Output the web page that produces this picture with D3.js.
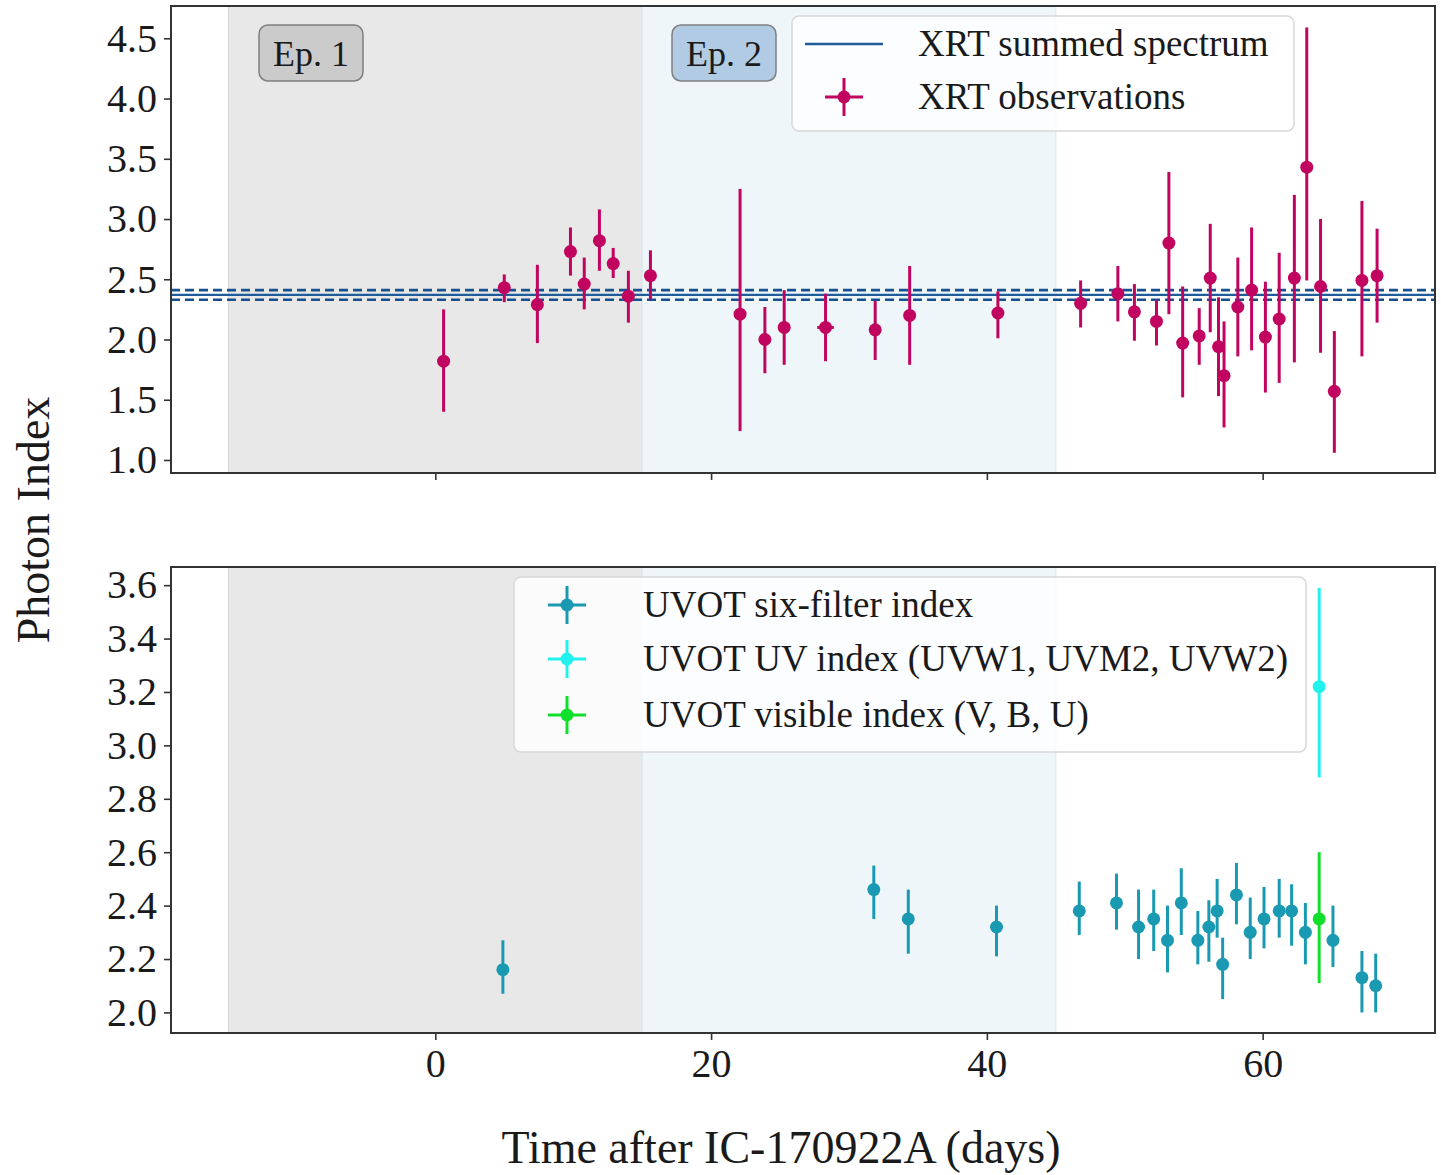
<!DOCTYPE html>
<html>
<head>
<meta charset="utf-8">
<script src="https://cdn.jsdelivr.net/npm/d3@7"></script>
<style>
  html, body { margin: 0; padding: 0; background: #ffffff; }
  svg text { font-family: "Liberation Serif", "DejaVu Serif", serif; fill: #1a1a1a; }
</style>
</head>
<body>
<svg id="chart" width="1441" height="1175"></svg>
<script>
// ---- XRT photon index per observation ----
const xrtTime    = [0.6, 5.0, 7.4, 9.8, 10.8, 11.9, 12.9, 14.0, 15.6, 22.1, 23.9, 25.3, 28.3, 31.9, 34.4, 40.8,
                    46.8, 49.5, 50.7, 52.3, 53.2, 54.2, 55.4, 56.2, 56.8, 57.2, 58.2, 59.2, 60.2, 61.2, 62.3, 63.2,
                    64.2, 65.2, 67.2, 68.3];
const xrtTimeErr = [0, 0, 0, 0, 0, 0, 0, 0, 0, 0, 0, 0, 0.6, 0, 0, 0,
                    0, 0, 0, 0, 0, 0, 0, 0, 0, 0, 0, 0, 0, 0, 0, 0,
                    0, 0, 0, 0];
const xrtIndex   = [1.82, 2.43, 2.29, 2.73, 2.46, 2.82, 2.63, 2.36, 2.53, 2.21, 2.00, 2.10, 2.10, 2.08, 2.20, 2.22,
                    2.30, 2.38, 2.23, 2.15, 2.80, 1.97, 2.03, 2.51, 1.94, 1.70, 2.27, 2.41, 2.02, 2.17, 2.51, 3.43,
                    2.44, 1.57, 2.49, 2.53];
const xrtUpper   = [2.25, 2.54, 2.62, 2.93, 2.68, 3.08, 2.76, 2.57, 2.74, 3.25, 2.27, 2.41, 2.38, 2.32, 2.61, 2.40,
                    2.49, 2.61, 2.46, 2.33, 3.39, 2.44, 2.26, 2.96, 2.35, 2.15, 2.68, 2.93, 2.48, 2.72, 3.20, 4.59,
                    3.00, 2.07, 3.15, 2.92];
const xrtLower   = [1.40, 2.31, 1.97, 2.53, 2.25, 2.57, 2.51, 2.14, 2.33, 1.24, 1.72, 1.79, 1.82, 1.83, 1.79, 2.01,
                    2.10, 2.15, 1.99, 1.95, 2.21, 1.52, 1.79, 2.06, 1.53, 1.27, 1.86, 1.91, 1.56, 1.64, 1.81, 2.49,
                    1.89, 1.06, 1.86, 2.14];

// ---- XRT summed spectrum: best fit and 1-sigma bounds ----
const summedIndex = 2.37;
const summedBounds = [2.41, 2.33];

// ---- UVOT six-filter index ----
const uvotTime  = [4.9, 31.8, 34.3, 40.7, 46.7, 49.4, 51.0, 52.1, 53.1, 54.1, 55.3, 56.1, 56.7, 57.1, 58.1, 59.1,
                   60.1, 61.2, 62.1, 63.1, 65.1, 67.2, 68.2];
const uvotIndex = [2.16, 2.46, 2.35, 2.32, 2.38, 2.41, 2.32, 2.35, 2.27, 2.41, 2.27, 2.32, 2.38, 2.18, 2.44, 2.30,
                   2.35, 2.38, 2.38, 2.30, 2.27, 2.13, 2.10];
const uvotUpper = [2.27, 2.55, 2.46, 2.40, 2.49, 2.52, 2.46, 2.46, 2.40, 2.54, 2.38, 2.42, 2.50, 2.28, 2.56, 2.43,
                   2.47, 2.50, 2.48, 2.41, 2.40, 2.23, 2.22];
const uvotLower = [2.07, 2.35, 2.22, 2.21, 2.29, 2.31, 2.20, 2.23, 2.15, 2.29, 2.18, 2.19, 2.28, 2.05, 2.33, 2.20,
                   2.24, 2.28, 2.25, 2.18, 2.17, 2.00, 2.00];

// ---- UVOT UV-only and visible-only indices ----
const uvTime = [64.1],  uvIndex = [3.22],  uvUpper = [3.59],  uvLower = [2.88];
const visTime = [64.1], visIndex = [2.35], visUpper = [2.60], visLower = [2.11];

// ---- epochs and ticks ----
const epochs = [
  { label: "Ep. 1", start: -15, end: 15 },
  { label: "Ep. 2", start: 15, end: 45 }
];
const xTicks = [0, 20, 40, 60];
const yTicksTop = [1.0, 1.5, 2.0, 2.5, 3.0, 3.5, 4.0, 4.5];
const yTicksBottom = [2.0, 2.2, 2.4, 2.6, 2.8, 3.0, 3.2, 3.4, 3.6];

// ---- series labels ----
const xrtLegend = ["XRT summed spectrum", "XRT observations"];
const uvotLegend = ["UVOT six-filter index", "UVOT UV index (UVW1, UVM2, UVW2)", "UVOT visible index (V, B, U)"];

// ---- layout ----
const C_XRT = "#c0045f", C_SUM = "#1f5c9a", C_SUMD = "#17508c";
const C_SIX = "#1a9ab2", C_UV = "#22f2ee", C_VIS = "#12df2c";
const left = 171, right = 1435;
const panelTop = { top: 6, bottom: 473 };
const panelBot = { top: 567, bottom: 1033 };

const svg = d3.select("#chart");

const x = d3.scaleLinear().domain([-19.17, 72.5]).range([left, right]);
const yTop = d3.scaleLinear().domain([0.892, 4.768]).range([panelTop.bottom, panelTop.top]);
const yBot = d3.scaleLinear().domain([1.923, 3.668]).range([panelBot.bottom, panelBot.top]);

function drawPanel(g, y, panel, yTicks, fmt, showXLabels) {
  const clipId = "clip" + panel.top;
  svg.append("clipPath").attr("id", clipId).append("rect")
    .attr("x", left).attr("y", panel.top).attr("width", right - left).attr("height", panel.bottom - panel.top);
  const plot = g.append("g").attr("clip-path", `url(#${clipId})`);

  // epoch shading
  const shade = ["#e8e8e8", "#eff6fa"];
  const edge = ["#d6dbe0", "#dde9f1"];
  epochs.forEach((ep, i) => {
    plot.append("rect")
      .attr("x", x(ep.start)).attr("y", panel.top)
      .attr("width", x(ep.end) - x(ep.start)).attr("height", panel.bottom - panel.top)
      .attr("fill", shade[i]).attr("stroke", edge[i]).attr("stroke-width", 1.2);
  });

  // axes
  const ya = g.append("g").attr("transform", `translate(${left},0)`)
    .call(d3.axisLeft(y).tickValues(yTicks).tickFormat(fmt).tickSize(7).tickPadding(7));
  ya.select(".domain").remove();
  ya.selectAll("line").attr("stroke", "#333").attr("stroke-width", 1.6);
  ya.selectAll("text").attr("font-size", 40).attr("fill", "#1a1a1a")
    .style("font-family", "'Liberation Serif', serif");

  const xa = g.append("g").attr("transform", `translate(0,${panel.bottom})`)
    .call(d3.axisBottom(x).tickValues(xTicks).tickFormat(showXLabels ? d3.format("d") : () => "")
      .tickSize(7).tickPadding(9));
  xa.select(".domain").remove();
  xa.selectAll("line").attr("stroke", "#333").attr("stroke-width", 1.6);
  xa.selectAll("text").attr("font-size", 40).attr("fill", "#1a1a1a")
    .style("font-family", "'Liberation Serif', serif");

  return plot;
}

function errorbars(plot, y, t, v, lo, hi, color, terr) {
  const d = t.map((ti, i) => ({ t: ti, v: v[i], lo: lo[i], hi: hi[i], te: terr ? terr[i] : 0 }));
  plot.append("g").selectAll("line").data(d).join("line")
    .attr("x1", p => x(p.t)).attr("x2", p => x(p.t))
    .attr("y1", p => y(p.lo)).attr("y2", p => y(p.hi))
    .attr("stroke", color).attr("stroke-width", 3);
  plot.append("g").selectAll("line").data(d.filter(p => p.te > 0)).join("line")
    .attr("x1", p => x(p.t - p.te)).attr("x2", p => x(p.t + p.te))
    .attr("y1", p => y(p.v)).attr("y2", p => y(p.v))
    .attr("stroke", color).attr("stroke-width", 3);
  plot.append("g").selectAll("circle").data(d).join("circle")
    .attr("cx", p => x(p.t)).attr("cy", p => y(p.v)).attr("r", 6.5)
    .attr("fill", color);
}

function legendMarker(g, cx, cy, color) {
  g.append("line").attr("x1", cx - 19).attr("x2", cx + 19).attr("y1", cy).attr("y2", cy)
    .attr("stroke", color).attr("stroke-width", 3);
  g.append("line").attr("x1", cx).attr("x2", cx).attr("y1", cy - 19).attr("y2", cy + 19)
    .attr("stroke", color).attr("stroke-width", 3);
  g.append("circle").attr("cx", cx).attr("cy", cy).attr("r", 6.5).attr("fill", color);
}

function frame(g, panel) {
  g.append("rect").attr("x", left).attr("y", panel.top)
    .attr("width", right - left).attr("height", panel.bottom - panel.top)
    .attr("fill", "none").attr("stroke", "#333").attr("stroke-width", 2);
}

// ================= top panel: XRT =================
const gTop = svg.append("g");
const pTop = drawPanel(gTop, yTop, panelTop, yTicksTop, d3.format(".1f"), false);

pTop.append("line").attr("x1", left).attr("x2", right)
  .attr("y1", yTop(summedIndex)).attr("y2", yTop(summedIndex))
  .attr("stroke", C_SUM).attr("stroke-width", 2.2);
summedBounds.forEach(b => {
  pTop.append("line").attr("x1", left).attr("x2", right)
    .attr("y1", yTop(b)).attr("y2", yTop(b))
    .attr("stroke", C_SUMD).attr("stroke-width", 2.6).attr("stroke-dasharray", "9,5");
});

errorbars(pTop, yTop, xrtTime, xrtIndex, xrtLower, xrtUpper, C_XRT, xrtTimeErr);

// epoch labels
const epBoxFill = ["#cbcbcb", "#b1cbe5"];
[259, 672].forEach((bx, i) => {
  gTop.append("rect").attr("x", bx).attr("y", 25).attr("width", 104).attr("height", 56)
    .attr("rx", 9).attr("fill", epBoxFill[i]).attr("stroke", "#7f7f7f").attr("stroke-width", 1.5);
  gTop.append("text").attr("x", bx + 52).attr("y", 53).attr("dy", "0.35em")
    .attr("text-anchor", "middle").attr("font-size", 36).text(epochs[i].label);
});

// legend
const lgTop = gTop.append("g");
lgTop.append("rect").attr("x", 792).attr("y", 16).attr("width", 502).attr("height", 115)
  .attr("rx", 7).attr("fill", "#ffffff").attr("fill-opacity", 0.8)
  .attr("stroke", "#d8d8d8").attr("stroke-width", 1.5);
lgTop.append("line").attr("x1", 805).attr("x2", 883).attr("y1", 44).attr("y2", 44)
  .attr("stroke", C_SUM).attr("stroke-width", 2.6);
legendMarker(lgTop, 844, 97, C_XRT);
xrtLegend.forEach((t, i) => {
  lgTop.append("text").attr("x", 918).attr("y", [44, 97][i]).attr("dy", "0.33em")
    .attr("font-size", 37).text(t);
});
frame(gTop, panelTop);

// ================= bottom panel: UVOT =================
const gBot = svg.append("g");
const pBot = drawPanel(gBot, yBot, panelBot, yTicksBottom, d3.format(".1f"), true);

errorbars(pBot, yBot, uvotTime, uvotIndex, uvotLower, uvotUpper, C_SIX);
errorbars(pBot, yBot, uvTime, uvIndex, uvLower, uvUpper, C_UV);
errorbars(pBot, yBot, visTime, visIndex, visLower, visUpper, C_VIS);

const lgBot = gBot.append("g");
lgBot.append("rect").attr("x", 514).attr("y", 577).attr("width", 792).attr("height", 175)
  .attr("rx", 7).attr("fill", "#ffffff").attr("fill-opacity", 0.8)
  .attr("stroke", "#d8d8d8").attr("stroke-width", 1.5);
[C_SIX, C_UV, C_VIS].forEach((c, i) => {
  const cy = [605, 659, 715][i];
  legendMarker(lgBot, 567, cy, c);
  lgBot.append("text").attr("x", 643).attr("y", cy).attr("dy", "0.33em")
    .attr("font-size", 37).text(uvotLegend[i]);
});
frame(gBot, panelBot);

// ================= shared axis titles =================
svg.append("text").attr("transform", "translate(33,520) rotate(-90)")
  .attr("text-anchor", "middle").attr("dy", "0.35em").attr("font-size", 46).text("Photon Index");
svg.append("text").attr("x", 781).attr("y", 1163)
  .attr("text-anchor", "middle").attr("font-size", 46).text("Time after IC-170922A (days)");
</script>
</body>
</html>
